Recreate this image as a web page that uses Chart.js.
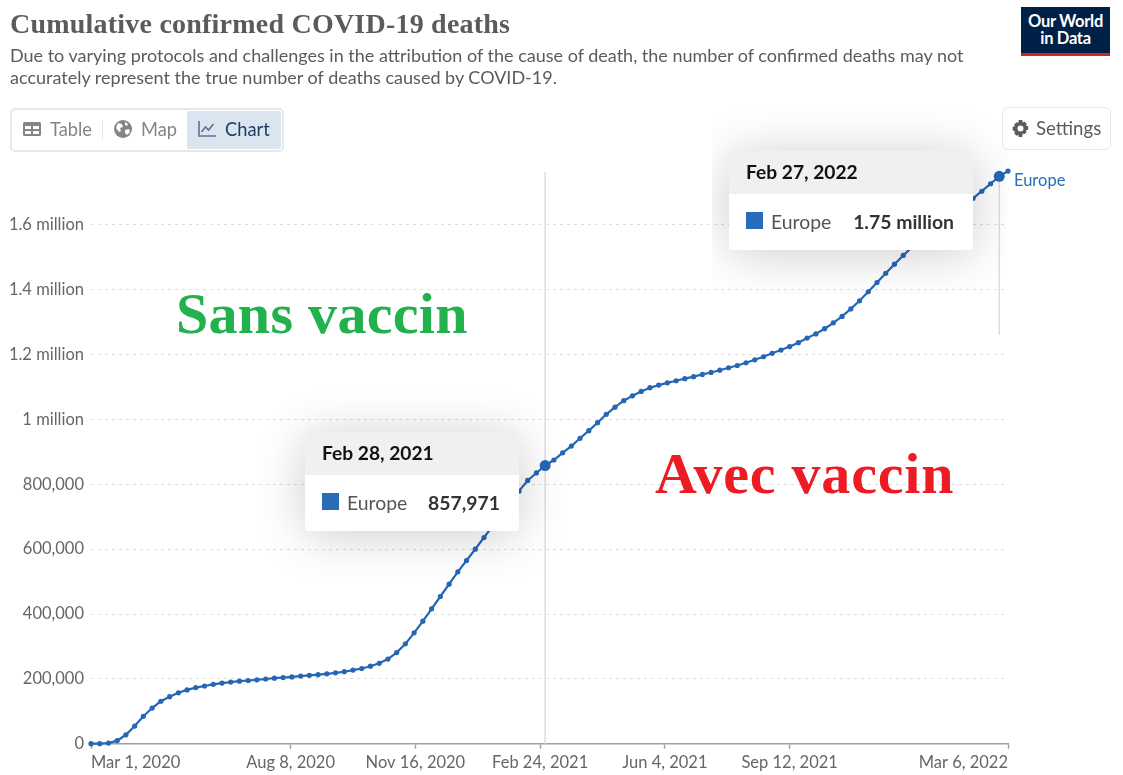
<!DOCTYPE html>
<html>
<head>
<meta charset="utf-8">
<title>Cumulative confirmed COVID-19 deaths</title>
<script src="https://cdn.jsdelivr.net/npm/chart.js@4"></script>
<style>
  html, body { margin: 0; padding: 0; background: #fff; }
  body { width: 1123px; height: 775px; position: relative; overflow: hidden; font-family: Lato, sans-serif; }
  #myChart { position: absolute; left: 0; top: 0; }
  .abs { position: absolute; white-space: nowrap; }
  .title { left: 10px; top: 7px; font: bold 28px/34px "Liberation Serif", serif; letter-spacing: 0.22px; color: #5b5b5b; }
  .sub { left: 10px; font-size: 18px; line-height: 22px; color: #5b5b5b; }
  .tabs { left: 10px; top: 108px; width: 270px; height: 40px; border: 2px solid #e7e7e7; border-radius: 5px; }
  .active { left: 187px; top: 111px; width: 94px; height: 38px; background: #dbe5f0; border-radius: 2px; }
  .sep { left: 102px; top: 120px; width: 1px; height: 20px; background: #e7e7e7; }
  .tab { font-size: 18.3px; line-height: 22px; top: 118px; color: #858585; }
  .settings { left: 1002px; top: 107px; width: 107px; height: 41px; border: 1.5px solid #e7e7e7; border-radius: 6px; }
  .logo { left: 1021px; top: 7px; width: 89px; height: 46px; background: #002147; border-bottom: 3px solid #ce261e;
    color: #fff; font-weight: bold; font-size: 16.5px; line-height: 17px; text-align: center; padding-top: 0; }
  .logo div { position: relative; top: 6px; letter-spacing: -0.3px; }
  .note { font: bold 58px/66px "Liberation Serif", serif; letter-spacing: 0.3px; }
  .clip { overflow: hidden; }
  .tip { background: #fff; border-radius: 4px; box-shadow: 0 4px 50px rgba(0,0,0,.2); height: 99px; }
  .tip .head { position: absolute; left: 0; top: 0; right: 0; height: 43px; background: #f0f0f0; border-radius: 4px 4px 0 0; }
  .tip .date { position: absolute; left: 17px; top: 10px; font-weight: bold; font-size: 19.2px; line-height: 22px; color: #111; }
  .tip .sq { position: absolute; left: 17px; top: 61px; width: 17px; height: 17px; background: #286bbb; }
  .tip .name { position: absolute; left: 42px; top: 60px; font-size: 19.4px; line-height: 22px; color: #555; }
  .tip .val { position: absolute; right: 19px; top: 60px; font-weight: bold; font-size: 19.4px; line-height: 22px; color: #333; }
</style>
</head>
<body>
<canvas id="myChart" width="1123" height="775"></canvas>

<div class="abs title">Cumulative confirmed COVID-19 deaths</div>
<div class="abs sub" style="top:44px">Due to varying protocols and challenges in the attribution of the cause of death, the number of confirmed deaths may not</div>
<div class="abs sub" style="top:66px">accurately represent the true number of deaths caused by COVID-19.</div>

<div class="abs logo"><div>Our World<br>in Data</div></div>

<div class="abs tabs"></div>
<div class="abs active"></div>
<div class="abs sep"></div>
<svg class="abs" style="left:23px;top:122px" width="18" height="14" viewBox="0 0 18 14"><path fill="#858585" d="M1.5 0h15A1.5 1.5 0 0 1 18 1.500v11a1.500 1.500 0 0 1-1.500 1.500h-15A1.500 1.500 0 0 1 0 12.500v-11A1.500 1.500 0 0 1 1.500 0zM2 4v3h6V4zm8 0v3h6V4zM2 9v3h6V9zm8 0v3h6V9z"/></svg>
<div class="abs tab" style="left:50px">Table</div>
<svg class="abs" style="left:114px;top:120px" width="18" height="18" viewBox="0 0 18 18"><circle cx="9" cy="9" r="9" fill="#858585"/><path fill="#fff" d="M4 3l4 1 1 3-3 1 1 3-2 1-3-4zM11 2l3 2-1 2-2-1zM11 10l4-1 1 3-3 3-2-2z"/></svg>
<div class="abs tab" style="left:141px">Map</div>
<svg class="abs" style="left:198px;top:121px" width="18" height="16" viewBox="0 0 18 16"><path fill="none" stroke="#5b7392" stroke-width="1.600" d="M1 0v15h17M3.500 11l4-5 3 3 5-6"/></svg>
<div class="abs tab" style="left:225px;color:#1d3d63">Chart</div>

<div class="abs settings"></div>
<svg class="abs" style="left:1012px;top:120px" width="17" height="17" viewBox="0 0 20 20"><path fill="#5b5b5b" fill-rule="evenodd" d="M8 0h4l.6 2.800 2-.9 2.800 2.800-1 2 2.600.7v4l-2.700.7 1 2-2.800 2.800-2-1L12 20H8l-.7-2.600-2 1-2.800-2.800 1-2L.8 12V8l2.700-.7-1-2 2.800-2.800 2 1zM10 6.500a3.500 3.500 0 1 0 0 7 3.500 3.500 0 0 0 0-7z"/></svg>
<div class="abs tab" style="left:1036px;top:117px;font-size:18.6px;color:#5b5b5b">Settings</div>

<div class="abs" style="left:1014px;top:170px;font-size:16.5px;line-height:20px;color:#2a6fb8">Europe</div>

<div class="abs note" style="left:176px;top:281px;color:#22b14c">Sans vaccin</div>
<div class="abs note" style="left:655px;top:441px;letter-spacing:0.8px;color:#ed1c24">Avec vaccin</div>

<div class="abs clip" style="left:235px;top:365px;width:355px;height:245px">
  <div class="abs tip" style="left:70px;top:67px;width:214px">
    <div class="head"></div><div class="date">Feb 28, 2021</div>
    <div class="sq"></div><div class="name">Europe</div><div class="val">857,971</div>
  </div>
</div>
<div class="abs clip" style="left:712px;top:95px;width:295px;height:200px">
  <div class="abs tip" style="left:17px;top:56px;width:244px">
    <div class="head"></div><div class="date">Feb 27, 2022</div>
    <div class="sq"></div><div class="name">Europe</div><div class="val">1.75 million</div>
  </div>
</div>

<script>
// weekly points, days since Mar 1, 2020
const days = [
  0, 7, 14, 21, 28, 35, 42, 49, 56, 63, 70, 77, 84, 91, 98, 105, 112, 119, 126, 133,
  140, 147, 154, 161, 168, 175, 182, 189, 196, 203, 210, 217, 224, 231, 238, 245, 252, 259, 266, 273,
  280, 287, 294, 301, 308, 315, 322, 329, 336, 343, 350, 357, 364, 371, 378, 385, 392, 399, 406, 413,
  420, 427, 434, 441, 448, 455, 462, 469, 476, 483, 490, 497, 504, 511, 518, 525, 532, 539, 546, 553,
  560, 567, 574, 581, 588, 595, 602, 609, 616, 623, 630, 637, 644, 651, 658, 665, 672, 679, 686, 693,
  700, 707, 714, 721, 728, 735
];
const europe = [
  30, 150, 1800, 9500, 27500, 54500, 84500, 110000, 131000, 145000,
  157000, 166000, 173000, 178000, 183000, 187000, 190000, 193000, 195000, 197000,
  199500, 202000, 204000, 206000, 208500, 211000, 213000, 215500, 218500, 222000,
  227000, 232000, 239000, 248000, 261000, 281000, 308000, 342000, 378000, 416000,
  454000, 492000, 530000, 565000, 600000, 636000, 672000, 708000, 744000, 779000,
  812000, 835000, 857971, 875000, 897000, 918000, 942000, 965500, 990000, 1016000,
  1038000, 1058000, 1073000, 1086500, 1098000, 1106000, 1113000, 1119500, 1126000, 1132000,
  1139000, 1145000, 1152000, 1159500, 1166500, 1175000, 1184000, 1193500, 1204000, 1214000,
  1225000, 1237000, 1251000, 1264000, 1280000, 1298000, 1318000, 1341000, 1366000, 1394000,
  1422500, 1451000, 1479000, 1506000, 1531000, 1556000, 1578000, 1600000, 1622000, 1643000,
  1663000, 1682000, 1704000, 1727000, 1750000, 1766000
];
const focusDays = [364, 728];
const focusValues = [857971, 1750000];

const xTicks = [0, 160, 260, 360, 460, 560, 735];
const xLabels = ["Mar 1, 2020", "Aug 8, 2020", "Nov 16, 2020", "Feb 24, 2021", "Jun 4, 2021", "Sep 12, 2021", "Mar 6, 2022"];
const yTicks = [0, 200000, 400000, 600000, 800000, 1000000, 1200000, 1400000, 1600000];
const yLabels = ["0", "200,000", "400,000", "600,000", "800,000", "1 million", "1.2 million", "1.4 million", "1.6 million"];

const lineColor = "#2566b5";
const tickFont = { family: "Lato", size: 16.5 };

// hover rules behind the two pinned tooltips: [day, top px, bottom px]
const hoverRules = [[364, 172, 743.7], [728, 176, 335]];
const hoverLines = {
  id: "hoverLines",
  beforeDatasetsDraw(chart) {
    const c = chart.ctx;
    c.save();
    c.strokeStyle = "#dddddd";
    c.lineWidth = 1.5;
    hoverRules.forEach((r) => {
      const x = chart.scales.x.getPixelForValue(r[0]);
      c.beginPath();
      c.moveTo(x, r[1]);
      c.lineTo(x, r[2]);
      c.stroke();
    });
    c.restore();
  },
};

const myChart = new Chart(document.getElementById("myChart").getContext("2d"), {
  type: "line",
  data: {
    datasets: [
      {
        label: "Europe",
        data: days.map((d, i) => ({ x: d, y: europe[i] })),
        borderColor: lineColor,
        backgroundColor: lineColor,
        borderWidth: 2.2,
        pointRadius: 2.6,
        pointBorderWidth: 0,
        tension: 0,
        clip: false,
      },
      {
        label: "Focus",
        data: focusDays.map((d, i) => ({ x: d, y: focusValues[i] })),
        showLine: false,
        backgroundColor: lineColor,
        pointRadius: 5.5,
        pointBorderWidth: 0,
        clip: false,
      },
    ],
  },
  options: {
    responsive: false,
    animation: false,
    layout: { padding: { top: 160.1, right: 115, left: 0, bottom: 0 } },
    plugins: { legend: { display: false }, tooltip: { enabled: false } },
    scales: {
      x: {
        type: "linear",
        min: 0,
        max: 735,
        afterFit(scale) { scale.height = 31.3; },
        afterBuildTicks(scale) { scale.ticks = xTicks.map((v) => ({ value: v })); },
        grid: { drawOnChartArea: false, drawTicks: true, tickLength: 5, tickColor: "#a0a0a0", tickWidth: 1.5 },
        border: { color: "#a0a0a0", width: 1.5 },
        ticks: {
          font: tickFont,
          color: "#666666",
          padding: 4,
          align: "inner",
          autoSkip: false,
          maxRotation: 0,
          callback: (v) => xLabels[xTicks.indexOf(v)],
        },
      },
      y: {
        min: 0,
        max: 1800000,
        afterFit(scale) { scale.width = 91; },
        afterBuildTicks(scale) { scale.ticks = yTicks.map((v) => ({ value: v })); },
        grid: { color: (c) => (c.tick.value === 0 ? "rgba(0,0,0,0)" : "#dddddd"), drawTicks: false, lineWidth: 1 },
        border: { display: false, dash: [3, 4] },
        ticks: {
          font: tickFont,
          color: "#666666",
          padding: 7,
          callback: (v) => yLabels[yTicks.indexOf(v)],
        },
      },
    },
  },
  plugins: [hoverLines],
});
</script>
</body>
</html>
